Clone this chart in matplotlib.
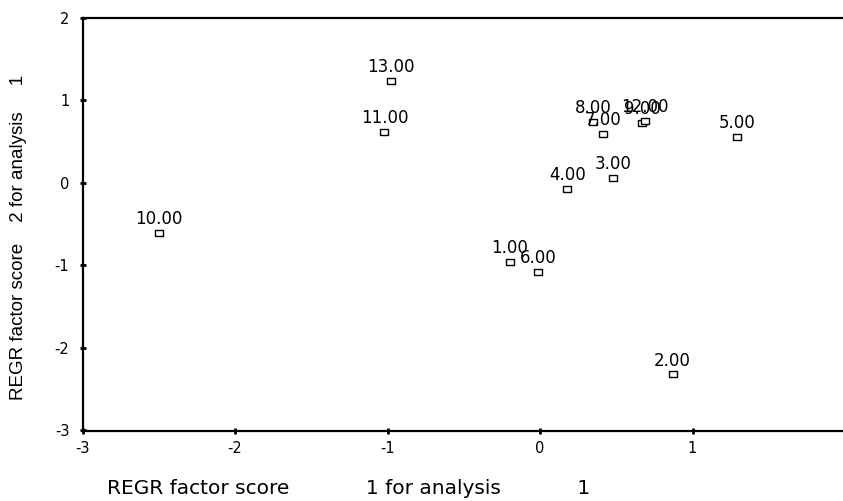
import matplotlib
matplotlib.use("Agg")
import matplotlib.pyplot as plt

plt.rcParams['font.family'] = ['DejaVu Sans']

case_labels = ["1.00", "2.00", "3.00", "4.00", "5.00", "6.00", "7.00",
               "8.00", "9.00", "10.00", "11.00", "12.00", "13.00"]
score1 = [-0.20, 0.87, 0.48, 0.18, 1.29, -0.01, 0.41,
          0.35, 0.67, -2.50, -1.02, 0.69, -0.98]
score2 = [-0.96, -2.32, 0.06, -0.07, 0.56, -1.08, 0.59,
          0.74, 0.73, -0.61, 0.62, 0.75, 1.24]

x_ticks = [-3, -2, -1, 0, 1]
y_ticks = [-3, -2, -1, 0, 1, 2]

W, H = 843, 501
fig = plt.figure(figsize=(W / 100, H / 100), dpi=100)
ax = fig.add_axes([82.5 / W, 1 - 430.5 / H, (845 - 82.5) / W, 412.5 / H])

rect = [(-1.3, -1), (1.3, -1), (1.3, 1), (-1.3, 1), (-1.3, -1)]
ax.plot(score1, score2, linestyle='none', marker=rect, markersize=6,
        markerfacecolor='white', markeredgecolor='black', markeredgewidth=1.0)
for lab, xv, yv in zip(case_labels, score1, score2):
    ax.annotate(lab, (xv, yv), xytext=(0, 10), textcoords='offset points',
                ha='center', va='center', fontsize=12)

ax.set_xlim(-3, 2)
ax.set_ylim(-3, 2)
ax.set_xticks(x_ticks)
ax.set_yticks(y_ticks)
ax.set_xticklabels([str(t) for t in x_ticks])
ax.set_yticklabels([str(t) for t in y_ticks])
ax.tick_params(axis='both', direction='inout', length=5, width=2, labelsize=10.5)
ax.tick_params(axis='x', pad=5)
ax.tick_params(axis='y', pad=7)
for s in ['left', 'bottom', 'top']:
    ax.spines[s].set_linewidth(1.6)
ax.spines['right'].set_visible(False)

fig.text(107 / W, 1 - 488 / H,
         "REGR factor score" + " " * 12 + "1 for analysis" + " " * 12 + "1",
         ha='left', va='center', fontsize=14.5)
fig.text(19 / W, 1 - 237 / H, "REGR factor score    2 for analysis     1",
         ha='center', va='center', rotation=90, fontsize=13.5,
         family=['Liberation Sans', 'DejaVu Sans'])

fig.savefig("out.png", dpi=100)
